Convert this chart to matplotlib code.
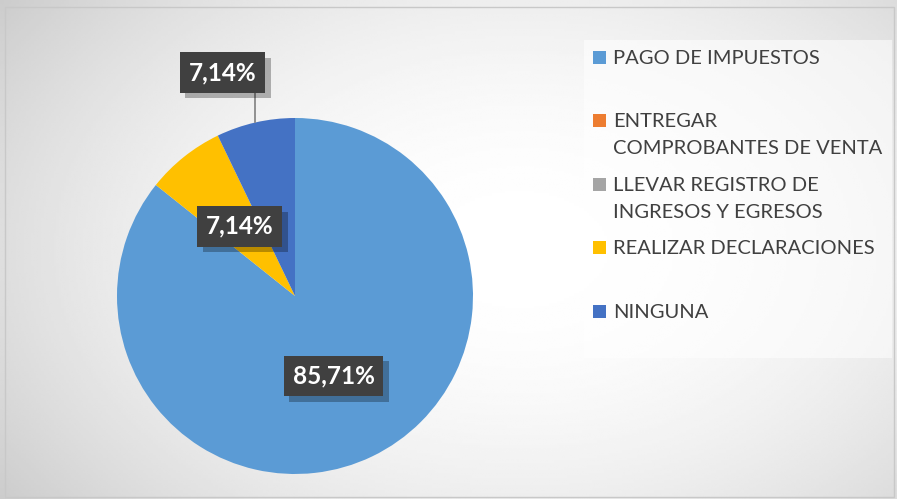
import numpy as np
import matplotlib
matplotlib.use("Agg")
import matplotlib.pyplot as plt
import matplotlib.patheffects as pe
from matplotlib.patches import Rectangle

categories = ["PAGO DE IMPUESTOS", "ENTREGAR\nCOMPROBANTES DE VENTA",
              "LLEVAR REGISTRO DE\nINGRESOS Y EGRESOS",
              "REALIZAR DECLARACIONES", "NINGUNA"]
values = [85.71, 0.0, 0.0, 7.14, 7.14]
colors = ["#5B9BD5", "#ED7D31", "#A5A5A5", "#FFC000", "#4472C4"]

plt.rcParams["font.family"] = ["Lato", "DejaVu Sans"]

W, H = 897, 499
fig = plt.figure(figsize=(W / 100, H / 100), dpi=100)

# background gradient
bg = fig.add_axes([0, 0, 1, 1])
yy, xx = np.mgrid[0:1:200j, 0:1:360j]
r2 = ((xx - 0.58) / 0.75) ** 2 + ((yy - 0.5) / 0.9) ** 2
shade = np.clip(1.0 - 0.22 * r2, 0.75, 1.0)
bg.imshow(shade, cmap="gray", vmin=0, vmax=1, extent=[0, W, 0, H],
          aspect="auto", origin="upper", interpolation="bilinear")
bg.add_patch(Rectangle((5, 2), 889, 490, fill=False, ec="#c8c8c8", lw=1))
bg.set_xlim(0, W)
bg.set_ylim(0, H)
bg.axis("off")

# pie
ax = fig.add_axes([117 / W, 25 / H, 356 / W, 356 / H])
wedges, _ = ax.pie(values, colors=colors, startangle=90, counterclock=False,
                   radius=1, wedgeprops=dict(linewidth=0))
ax.set_xlim(-1, 1)
ax.set_ylim(-1, 1)
ax.set_aspect("equal")
ax.axis("off")

shadow_fx = [pe.SimplePatchShadow(offset=(4, -4), shadow_rgbFace="black", alpha=0.28),
             pe.Normal()]


def label(x, y, txt):
    t = ax.text(x, y, txt, ha="center", va="center", fontsize=17.5,
                fontweight="bold", color="white", zorder=5, clip_on=False,
                bbox=dict(boxstyle="square,pad=0.36", fc="#404040",
                          ec="none", lw=0))
    t.get_bbox_patch().set_path_effects(shadow_fx)
    return t


total = sum(values)
start = 90.0
for i, v in enumerate(values):
    if v > 0:
        mid = np.deg2rad(start - 360 * v / total / 2)
        txt = f"{v:.2f}%".replace(".", ",")
        cx, cy = np.cos(mid), np.sin(mid)
        if i == len(values) - 1:
            # outside label with leader line
            ax.plot([cx, cx], [cy, 1.16], color="#7f7f7f", lw=1.2, zorder=3,
                    clip_on=False)
            label(cx - 0.185, 1.255, txt)
        else:
            label(0.5 * cx, 0.5 * cy, txt)
    start -= 360 * v / total

# legend panel
bg.add_patch(Rectangle((584, H - 358), 308, 318, fc="white", ec="none", alpha=0.55))
for i, (lab, col) in enumerate(zip(categories, colors)):
    y = H - (57 + i * 63.5)
    bg.add_patch(Rectangle((593, y - 6.5), 13, 13, fc=col, ec="none"))
    bg.text(613, y + 7.5, lab, ha="left", va="top", fontsize=14.5,
            color="#404040", linespacing=1.74)

fig.savefig("out.png", dpi=100)
